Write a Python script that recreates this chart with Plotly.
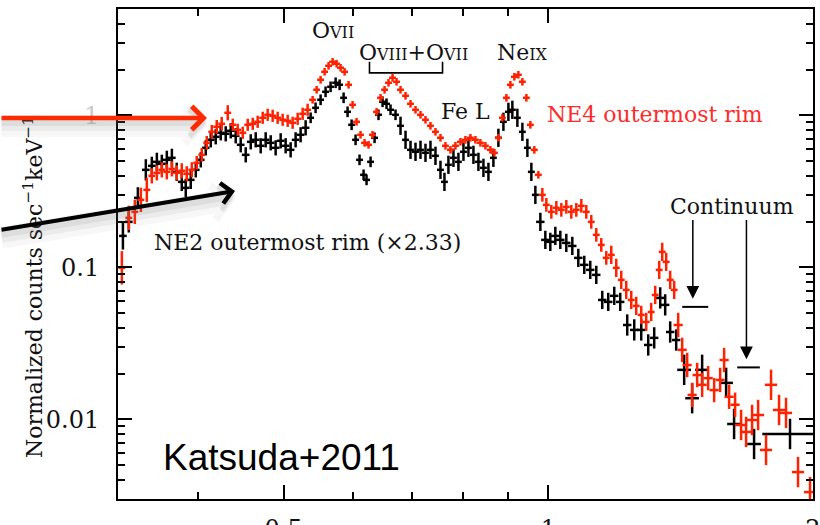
import numpy as np
import plotly.graph_objects as go

# ---- NE4 outermost rim spectrum (keV, normalized counts s^-1 keV^-1) ----
ne4_energy = [
    0.3273, 0.3333, 0.3386, 0.3440, 0.3494, 0.3540, 0.3587, 0.3634, 0.3682, 0.3731,
    0.3779, 0.3829, 0.3879, 0.3931, 0.3982, 0.4035, 0.4088, 0.4142, 0.4196, 0.4251,
    0.4319, 0.4376, 0.4433, 0.4492, 0.4551, 0.4611, 0.4671, 0.4733, 0.4795, 0.4858,
    0.4922, 0.4987, 0.5053, 0.5119, 0.5187, 0.5255, 0.5324, 0.5394, 0.5451, 0.5508,
    0.5566, 0.5624, 0.5684, 0.5744, 0.5804, 0.5865, 0.5927, 0.5989, 0.6052, 0.6115,
    0.6180, 0.6245, 0.6310, 0.6377, 0.6444, 0.6512, 0.6580, 0.6650, 0.6720, 0.6790,
    0.6880, 0.6970, 0.7062, 0.7155, 0.7249, 0.7344, 0.7441, 0.7539, 0.7638, 0.7739,
    0.7841, 0.7944, 0.8048, 0.8154, 0.8262, 0.8370, 0.8481, 0.8592, 0.8683, 0.8774,
    0.8866, 0.8960, 0.9054, 0.9149, 0.9245, 0.9343, 0.9441, 0.9540, 0.9640, 0.9742,
    0.9844, 0.9948, 1.0079, 1.0211, 1.0346, 1.0482, 1.0620, 1.0760, 1.0902, 1.1045,
    1.1190, 1.1338, 1.1487, 1.1638, 1.1792, 1.1947, 1.2104, 1.2263, 1.2425, 1.2588,
    1.2754, 1.2922, 1.3092, 1.3230, 1.3369, 1.3475, 1.3616, 1.3759, 1.3904, 1.4050,
    1.4198, 1.4385, 1.4574, 1.4766, 1.4960, 1.5197, 1.5438, 1.5682, 1.5847, 1.6055,
    1.6309, 1.6567, 1.6785, 1.7051, 1.7321, 1.7686, 1.7919, 1.8298, 1.8636, 1.9231,
    1.9845,
]
ne4_counts = [
    0.0993, 0.2117, 0.2318, 0.2780, 0.3235, 0.3999, 0.4184, 0.4379, 0.4249, 0.4446,
    0.4184, 0.4314, 0.4124, 0.4379, 0.4870, 0.5497, 0.6592, 0.7787, 0.8401, 0.8793,
    1.0385, 0.8660, 0.8027, 0.7672, 0.8660, 0.8793, 0.9063, 0.9629, 1.0076, 0.9925,
    0.9629, 0.9341, 0.9200, 0.8927, 0.9484, 1.0230, 1.0869, 1.2647, 1.4720, 1.7125,
    1.9324, 2.1164, 2.2491, 2.1820, 2.0535, 1.9324, 1.5873, 1.1726, 0.9063, 0.7444,
    0.6592, 0.6397, 0.7444, 1.0544, 1.3033, 1.4720, 1.6362, 1.7652, 1.6612, 1.4720,
    1.3435, 1.1905, 1.0869, 1.0076, 0.9341, 0.8530, 0.7787, 0.7112, 0.6302, 0.5929,
    0.6302, 0.6693, 0.6900, 0.7112, 0.6900, 0.6592, 0.6302, 0.5929, 0.5668, 0.7112,
    0.9629, 1.3033, 1.5873, 1.7918, 1.8465, 1.6612, 1.3033, 0.8660, 0.5929, 0.4062,
    0.2999, 0.2577, 0.2318, 0.2463, 0.2389, 0.2500, 0.2318, 0.2389, 0.2539, 0.2318,
    0.1992, 0.1636, 0.1406, 0.1155, 0.1209, 0.0993, 0.0828, 0.0711, 0.0611, 0.0558,
    0.0487, 0.0438, 0.0509, 0.0659, 0.0963, 0.1265, 0.1087, 0.0828, 0.0711, 0.0418,
    0.0287, 0.0228, 0.0145, 0.0196, 0.0169, 0.0187, 0.0156, 0.0182, 0.0246, 0.0141,
    0.0125, 0.0092, 0.00828, 0.00992, 0.0107, 0.0063, 0.0169, 0.01155, 0.01104, 0.00451,
    0.00333,
]
# 1-sigma errors: y in dex, x as fractional bin half-width
ne4_dy_dex = ([0.11] + [0.08] * 4 + [0.05] * 9 + [0.045] * 6 + [0.05] + [0.04] * 16
              + [0.025] * 53 + [0.045] * 14 + [0.06] * 15 + [0.08] * 12 + [0.10] * 10)
ne4_dx_frac = [0.009] * 14 + [0.009] * 76 + [0.009] * 29 + [0.012] * 12 + [0.016] * 10

# ---- NE2 outermost rim spectrum, scaled by 2.33 ----
ne2_energy = [
    0.3282, 0.3333, 0.3413, 0.3485, 0.3540, 0.3587, 0.3634, 0.3682, 0.3731, 0.3779,
    0.3829, 0.3869, 0.3920, 0.3972, 0.4024, 0.4077, 0.4131, 0.4185, 0.4240, 0.4296,
    0.4353, 0.4410, 0.4468, 0.4527, 0.4587, 0.4647, 0.4708, 0.4770, 0.4833, 0.4896,
    0.4961, 0.5026, 0.5092, 0.5159, 0.5227, 0.5296, 0.5366, 0.5436, 0.5508, 0.5580,
    0.5654, 0.5729, 0.5789, 0.5850, 0.5911, 0.5974, 0.6036, 0.6099, 0.6164, 0.6212,
    0.6278, 0.6344, 0.6410, 0.6478, 0.6546, 0.6615, 0.6702, 0.6790, 0.6880, 0.6970,
    0.7062, 0.7155, 0.7249, 0.7344, 0.7441, 0.7539, 0.7618, 0.7698, 0.7800, 0.7902,
    0.8007, 0.8112, 0.8219, 0.8327, 0.8437, 0.8548, 0.8660, 0.8774, 0.8890, 0.9007,
    0.9101, 0.9221, 0.9343, 0.9466, 0.9565, 0.9666, 0.9793, 0.9922, 1.0052, 1.0185,
    1.0319, 1.0482, 1.0648, 1.0817, 1.0987, 1.1161, 1.1338, 1.1517, 1.1699, 1.1884,
    1.2072, 1.2295, 1.2523, 1.2754, 1.2990, 1.3195, 1.3404, 1.3580, 1.3759, 1.3977,
    1.4272, 1.4574, 1.4960, 1.5930, 1.6266, 1.7140, 1.8832,
]
ne2_counts = [
    0.1611, 0.1992, 0.2866, 0.4379, 0.4654, 0.4944, 0.4797, 0.5095, 0.5253, 0.4249,
    0.3651, 0.3334, 0.3763, 0.4379, 0.5095, 0.6111, 0.6900, 0.7222, 0.7672, 0.7556,
    0.7907, 0.7333, 0.6397, 0.5497, 0.6693, 0.6900, 0.6302, 0.6900, 0.6592, 0.6111,
    0.6797, 0.6302, 0.5929, 0.6900, 0.7444, 0.8275, 0.9629, 1.1202, 1.2647, 1.4274,
    1.5396, 1.6362, 1.5873, 1.3033, 1.0544, 0.8660, 0.6900, 0.5095, 0.4062, 0.3763,
    0.4944, 0.7112, 1.0076, 1.2268, 1.1905, 1.0869, 1.0076, 0.8530, 0.6900, 0.5929,
    0.5754, 0.5929, 0.5668, 0.5929, 0.5415, 0.4379, 0.3651, 0.4725, 0.5253, 0.4944,
    0.5754, 0.6111, 0.5497, 0.4944, 0.4515, 0.4249, 0.5253, 0.7112, 0.9063, 1.0544,
    1.0869, 0.9629, 0.7787, 0.6111, 0.4249, 0.2999, 0.1992, 0.1517, 0.1472, 0.1611,
    0.1517, 0.1449, 0.1384, 0.1155, 0.1039, 0.0963, 0.0893, 0.0611, 0.0593, 0.0650,
    0.0593, 0.0418, 0.0388, 0.0388, 0.0309, 0.0344, 0.0630, 0.0567, 0.0376, 0.0333,
    0.0212, 0.0138, 0.0212, 0.0174, 0.00934, 0.00690, 0.00803,
]
ne2_dy_dex = ([0.09] + [0.07] * 3 + [0.06] * 9 + [0.05] * 23 + [0.035] * 21
              + [0.06] * 29 + [0.06] * 15 + [0.07] * 9 + [0.10] * 7)
ne2_dx_frac = [0.010] * 36 + [0.009] * 50 + [0.011] * 24 + [0.018] * 6 + [0.07]

# Continuum upper levels marked with arrows
continuum_energy = [1.46, 1.68]
continuum_lo = [1.42, 1.64]
continuum_hi = [1.52, 1.74]
continuum_level = [0.055, 0.022]
continuum_arrow_top = 0.21

# Bracket spanning the O VIII + O VII blend
bracket_energy = [0.626, 0.626, 0.758, 0.758]
bracket_level = [2.25, 1.90, 1.90, 2.25]

RED = "#ff2200"
SERIF = "DejaVu Serif"


def spectrum_trace(energy, counts, dy_dex, dx_frac, color):
    e = np.array(energy)
    c = np.array(counts)
    d = np.array(dy_dex)
    f = np.array(dx_frac)
    return go.Scatter(
        x=e, y=c, mode="markers",
        marker=dict(size=1, color=color),
        error_y=dict(type="data", symmetric=False,
                     array=c * (10 ** d - 1), arrayminus=c * (1 - 10 ** -d),
                     color=color, thickness=2.5, width=0),
        error_x=dict(type="data", symmetric=True, array=e * f,
                     color=color, thickness=2.5, width=0),
        showlegend=False, hoverinfo="skip",
    )


fig = go.Figure()
fig.add_trace(spectrum_trace(ne2_energy, ne2_counts, ne2_dy_dex, ne2_dx_frac, "#000000"))
fig.add_trace(spectrum_trace(ne4_energy, ne4_counts, ne4_dy_dex, ne4_dx_frac, RED))

for lo, hi, lev in zip(continuum_lo, continuum_hi, continuum_level):
    fig.add_trace(go.Scatter(x=[lo, hi], y=[lev, lev], mode="lines",
                             line=dict(color="black", width=2),
                             showlegend=False, hoverinfo="skip"))

fig.add_trace(go.Scatter(x=bracket_energy, y=bracket_level, mode="lines",
                         line=dict(color="black", width=1.6),
                         showlegend=False, hoverinfo="skip"))

# plot area in pixels: x 118..813, y 9..499
L, R, T, B = 118, 813, 9, 499


def px(x):
    return (x - L) / (R - L)


def py(y):
    return 1 - (y - T) / (B - T)


ann = []


def label(text, x, y, size=22, color="#111111", family=SERIF, angle=0):
    ann.append(dict(text=text, x=px(x), y=py(y), xref="paper", yref="paper",
                    showarrow=False, xanchor="center", yanchor="middle",
                    textangle=angle, font=dict(family=family, size=size, color=color)))


def pointer(x0, y0, x1, y1, color, width, shadow=True):
    if shadow:
        for w, op, off in [(22, 0.05, 8), (14, 0.08, 6), (8, 0.11, 4)]:
            ann.append(dict(text="", x=px(x1), y=py(y1 + off), xref="paper", yref="paper",
                            ax=x0 - x1, ay=y0 - y1, showarrow=True, arrowhead=4,
                            arrowwidth=w, arrowsize=max(0.3, width * 1.15 / w),
                            arrowcolor="#707070", opacity=op, standoff=0))
    ann.append(dict(text="", x=px(x1), y=py(y1), xref="paper", yref="paper",
                    ax=x0 - x1, ay=y0 - y1, showarrow=True, arrowhead=4,
                    arrowwidth=width, arrowsize=1, arrowcolor=color, standoff=0))


sc = "font-size:16px"
label("Normalized counts sec<sup>\u22121</sup>keV<sup>\u22121</sup>", 33, 287, size=22,
      angle=-90)
label(f"O<span style='{sc}'>VII</span>", 333, 31)
label(f"O<span style='{sc}'>VIII</span>+O<span style='{sc}'>VII</span>", 413, 53)
label(f"Ne<span style='{sc}'>IX</span>", 522, 53)
label("Fe L", 466, 112)
label("NE4 outermost rim", 655, 114, color="#ff2a2a")
label("Continuum", 732, 207)
label("NE2 outermost rim (\u00d72.33)", 307, 243)
label("Katsuda+2011", 281, 457, size=37, family="Liberation Sans", color="#000000")

pointer(0, 118, 207, 118, "#ff2a00", 4.5)
pointer(0, 230, 235, 191, "#000000", 4.0)

for e, lev in zip(continuum_energy, continuum_level):
    ann.append(dict(text="", x=np.log10(e), y=np.log10(lev * 1.13), xref="x", yref="y",
                    ax=np.log10(e), ay=np.log10(continuum_arrow_top), axref="x", ayref="y",
                    showarrow=True, arrowhead=2, arrowwidth=1.5, arrowsize=1.7,
                    arrowcolor="black", standoff=0))

axis_common = dict(
    type="log", showline=True, linecolor="black", linewidth=2, mirror="ticks",
    ticks="inside", tickwidth=1.5, ticklen=14, tickcolor="black",
    showgrid=False, zeroline=False, automargin=False,
    tickfont=dict(family=SERIF, size=24, color="#111111"),
)

fig.update_layout(
    width=820, height=525,
    margin=dict(l=L, r=820 - R, t=T, b=525 - B),
    paper_bgcolor="white", plot_bgcolor="white",
    showlegend=False,
    xaxis=dict(
        **axis_common,
        range=[np.log10(0.324), np.log10(2.0)],
        tickvals=[0.5, 1, 2], ticktext=["0.5", "1", "2"],
        ticklabelstandoff=7, ticklabeloverflow="allow",
        minor=dict(tickvals=[0.4, 0.6, 0.7, 0.8, 0.9], ticks="inside", ticklen=7,
                   tickwidth=1.5, tickcolor="black", showgrid=False),
    ),
    yaxis=dict(
        **axis_common,
        range=[np.log10(0.003), np.log10(5)],
        tickvals=[0.01, 0.1, 1],
        ticktext=["0.01", "0.1", "<span style='color:#c8c8c8'>1</span>"],
        ticklabelstandoff=12,
        minor=dict(tickvals=[0.003, 0.004, 0.005, 0.006, 0.007, 0.008, 0.009,
                             0.02, 0.03, 0.04, 0.05, 0.06, 0.07, 0.08, 0.09,
                             0.2, 0.3, 0.4, 0.5, 0.6, 0.7, 0.8, 0.9, 2, 3, 4, 5],
                   ticks="inside", ticklen=7, tickwidth=1.5, tickcolor="black",
                   showgrid=False),
    ),
    annotations=ann,
)

fig.write_html("out.html")
